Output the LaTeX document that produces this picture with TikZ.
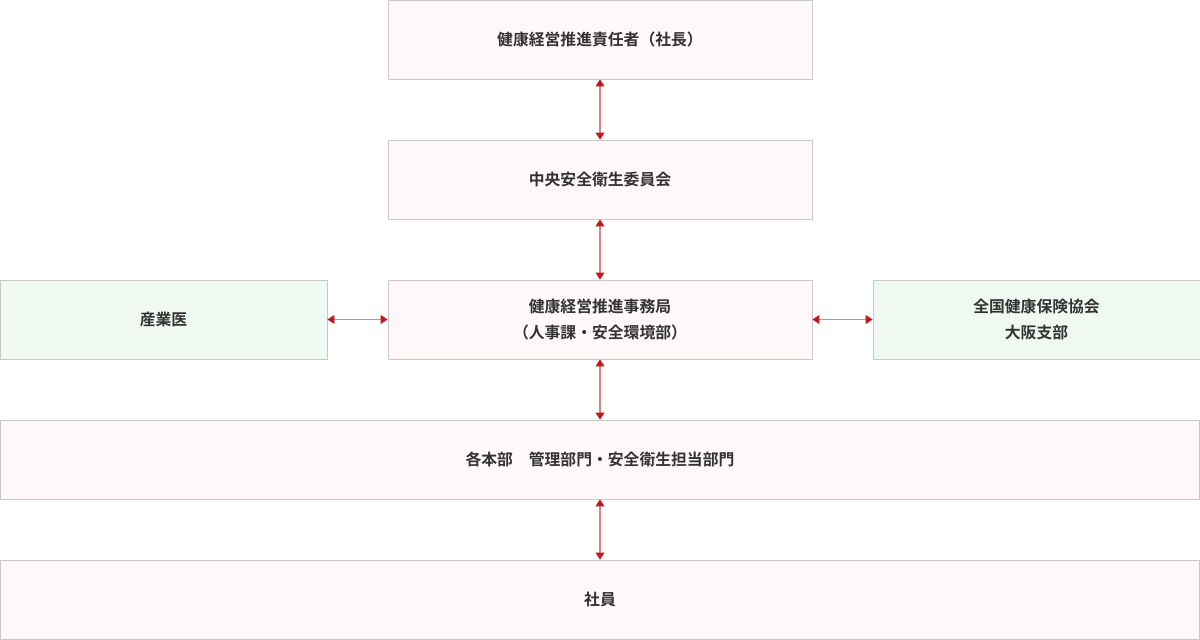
\documentclass[tikz,border=0pt]{standalone}
\usepackage{fontspec}
\setmainfont{Noto Sans CJK JP}[BoldFont={Noto Sans CJK JP Bold}]
\usetikzlibrary{arrows.meta,positioning}
\definecolor{boxline}{HTML}{C8C8C8}
\definecolor{pinkfill}{HTML}{FFF8F8}
\definecolor{greenfill}{HTML}{F0F9F1}
\definecolor{linkred}{HTML}{E08080}
\definecolor{tipred}{HTML}{C8161E}
\tikzset{
    orgbox/.style={draw=boxline, fill=pinkfill, minimum height=1.58cm, align=center,
        font=\fontsize{9}{14.5}\selectfont\bfseries, text=black!80, inner sep=0pt},
    sidebox/.style={orgbox, fill=greenfill, minimum width=6.54cm},
    link/.style={draw=linkred, line width=0.7pt,
        {Triangle[color=tipred,length=4pt,width=5pt]}-{Triangle[color=tipred,length=4pt,width=5pt]}}
}
\begin{document}
\begin{tikzpicture}
    \useasboundingbox (0,0) rectangle (24,-12.8);
    \node[orgbox, minimum width=8.48cm] (ceo) at (12,-0.79) {健康経営推進責任者（社長）};
    \node[orgbox, minimum width=8.48cm] (committee) at (12,-3.59) {中央安全衛生委員会};
    \node[orgbox, minimum width=8.48cm] (office) at (12,-6.39) {健康経営推進事務局\\（人事課・安全環境部）};
    \node[sidebox] (doctor) at (3.27,-6.39) {産業医};
    \node[sidebox] (kyokai) at (20.73,-6.39) {全国健康保険協会\\大阪支部};
    \node[orgbox, minimum width=23.98cm] (depts) at (12,-9.19) {各本部\quad 管理部門・安全衛生担当部門};
    \node[orgbox, minimum width=23.98cm] (staff) at (12,-11.99) {社員};

    % vertical links
    \draw[link] (ceo) -- (committee);
    \draw[link] (committee) -- (office);
    \draw[link] (office) -- (depts);
    \draw[link] (depts) -- (staff);
    % side links
    \draw[link] (doctor) -- (office);
    \draw[link] (office) -- (kyokai);
\end{tikzpicture}
\end{document}
